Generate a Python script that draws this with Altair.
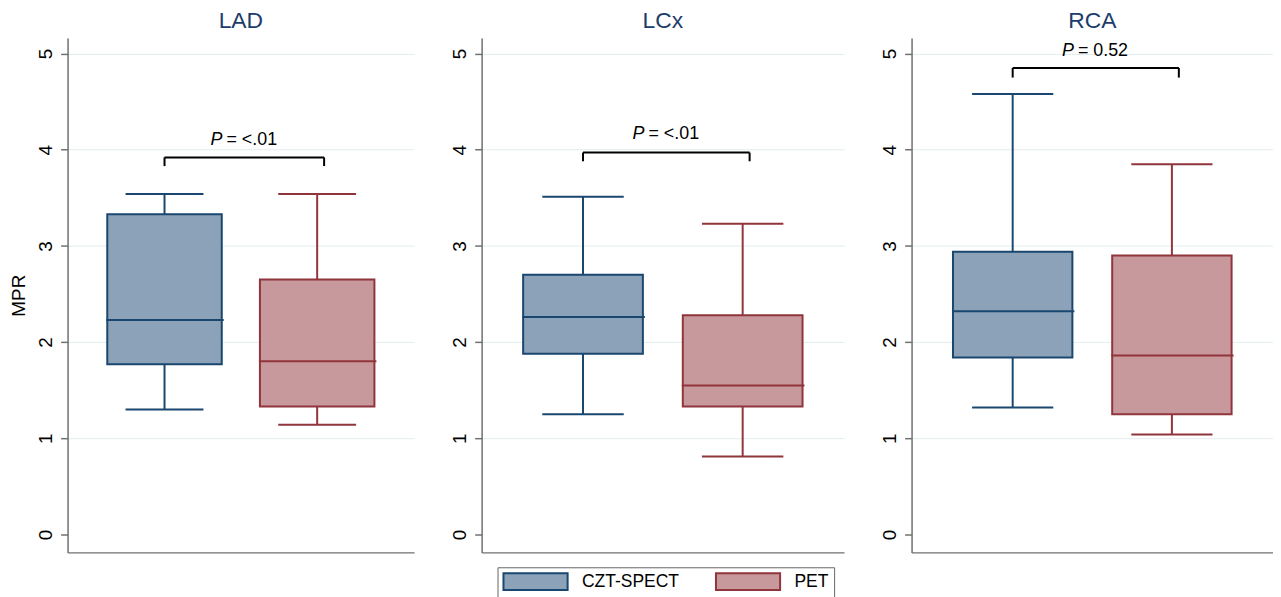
import altair as alt
import pandas as pd

# ---------------- data ----------------
vessels = ["LAD", "LCx", "RCA"]
methods = ["CZT-SPECT", "PET"]

whisker_low = [[1.30, 1.14], [1.25, 0.81], [1.32, 1.04]]
quartile_1 = [[1.77, 1.33], [1.88, 1.33], [1.84, 1.25]]
medians = [[2.23, 1.80], [2.26, 1.55], [2.32, 1.86]]
quartile_3 = [[3.33, 2.65], [2.70, 2.28], [2.94, 2.90]]
whisker_high = [[3.54, 3.54], [3.51, 3.23], [4.58, 3.85]]

p_values = ["<.01", "<.01", "0.52"]
bracket_y = [3.92, 3.97, 4.85]
bracket_foot = [3.83, 3.88, 4.75]
p_label_y = [4.10, 4.16, 5.03]

y_ticks = [0, 1, 2, 3, 4, 5]

# ---------------- style ----------------
FONT = "Liberation Sans"
PANEL_W = [349, 365, 364]
PANEL_H = 518
PI, PO = 0.25, 0.26
YMIN, YMAX = -0.186, 5.161
FILL = ["#8ca2b8", "#c8999c"]
EDGE = ["#1a476f", "#90353b"]
BR_OFF = 7

fill_scale = alt.Scale(domain=methods, range=FILL)
edge_scale = alt.Scale(domain=methods, range=EDGE)
legend = alt.Legend(
    title=None, orient="none", legendX=433, legendY=533, direction="horizontal",
    symbolType="M-1,-1L6.6,-1L6.6,1L-1,1Z", symbolSize=289,
    symbolStrokeWidth=2, symbolOffset=0, labelOffset=61, columnPadding=33,
    padding=5, strokeColor="#666666", fillColor="white",
    labelFont=FONT, labelFontSize=17.6, labelColor="black",
)


def make_panel(i, W):
    df = pd.DataFrame({
        "method": methods,
        "lo": whisker_low[i],
        "q1": quartile_1[i],
        "med": medians[i],
        "q3": quartile_3[i],
        "hi": whisker_high[i],
    })
    br = pd.DataFrame({
        "a": [methods[0]], "b": [methods[1]],
        "top": [bracket_y[i]], "foot": [bracket_foot[i]],
        "ly": [p_label_y[i]], "P": ["P"], "rest": ["= " + p_values[i]],
    })
    step = W / (2 - PI + 2 * PO)
    bw = step * (1 - PI)
    cap = bw * 0.68

    xs = alt.Scale(domain=methods, paddingInner=PI, paddingOuter=PO)
    xax = alt.Axis(title=None, labels=False, ticks=False, grid=False, domain=True)
    ys = alt.Scale(domain=[YMIN, YMAX], nice=False, zero=False)
    yax = alt.Axis(
        values=y_ticks,
        title="MPR" if i == 0 else None,
        grid=True,
        gridOpacity=alt.condition("datum.value === 0", alt.value(0), alt.value(1)),
    )
    X = alt.X("method:N", scale=xs, axis=xax)
    edge = alt.Stroke("method:N", scale=edge_scale, legend=legend)

    def Y(f):
        return alt.Y(f, scale=ys, axis=yax)

    base = alt.Chart(df)
    w_up = base.mark_rule(strokeWidth=2).encode(x=X, y=Y("q3:Q"), y2="hi:Q", stroke=edge)
    w_lo = base.mark_rule(strokeWidth=2).encode(x=X, y=Y("lo:Q"), y2="q1:Q", stroke=edge)
    boxes = base.mark_bar(strokeWidth=2, opacity=1).encode(
        x=X, y=Y("q1:Q"), y2="q3:Q",
        fill=alt.Fill("method:N", scale=fill_scale, legend=legend),
        stroke=edge,
    )
    cap_hi = base.mark_rule(strokeWidth=2, xOffset=-cap / 2, x2Offset=cap / 2).encode(
        x=X, x2="method:N", y=Y("hi:Q"), stroke=edge)
    cap_lo = base.mark_rule(strokeWidth=2, xOffset=-cap / 2, x2Offset=cap / 2).encode(
        x=X, x2="method:N", y=Y("lo:Q"), stroke=edge)
    med = base.mark_rule(strokeWidth=2, xOffset=-bw / 2 - 1, x2Offset=bw / 2 + 2).encode(
        x=X, x2="method:N", y=Y("med:Q"), stroke=edge)

    bb = alt.Chart(br)
    XA = alt.X("a:N", scale=xs, axis=xax)
    XB = alt.X("b:N", scale=xs, axis=xax)
    h = bb.mark_rule(strokeWidth=2, color="black", x2Offset=BR_OFF).encode(
        x=XA, x2="b:N", y=Y("top:Q"))
    lf = bb.mark_rule(strokeWidth=2, color="black").encode(
        x=XA, y=Y("top:Q"), y2="foot:Q")
    rf = bb.mark_rule(strokeWidth=2, color="black", xOffset=BR_OFF).encode(
        x=XB, y=Y("top:Q"), y2="foot:Q")
    mid = (step + BR_OFF) / 2
    t1 = bb.mark_text(fontStyle="italic", align="left", baseline="middle",
                      dx=mid - 34, fontSize=18, font=FONT, color="black").encode(
        x=XA, y=Y("ly:Q"), text="P:N")
    t2 = bb.mark_text(align="left", baseline="middle",
                      dx=mid - 18, fontSize=18, font=FONT, color="black").encode(
        x=XA, y=Y("ly:Q"), text="rest:N")

    return alt.layer(w_lo, w_up, boxes, cap_hi, cap_lo, med, h, lf, rf, t1, t2).properties(
        width=W, height=PANEL_H,
        title=alt.TitleParams(vessels[i], fontSize=23, font=FONT, color="#1c3d6b",
                              fontWeight="normal", anchor="middle", offset=5),
    )


panels = [make_panel(i, w) for i, w in enumerate(PANEL_W)]

chart = alt.hconcat(*panels, spacing=37).properties(
    padding={"left": 2, "top": 0, "right": 0, "bottom": 40}
).configure_view(stroke=None).configure_axis(
    domainColor="#707070", domainWidth=1.5, tickColor="#707070", tickWidth=1.5,
    tickSize=7, labelFont=FONT, labelFontSize=19, labelColor="black",
    labelAngle=270, labelPadding=5, gridColor="#e2ecef", gridWidth=1,
    titleFont=FONT, titleFontSize=19, titleFontWeight="normal", titleColor="black",
    titlePadding=8,
)

chart.save("out.html", embed_options={"renderer": "svg", "actions": False})
